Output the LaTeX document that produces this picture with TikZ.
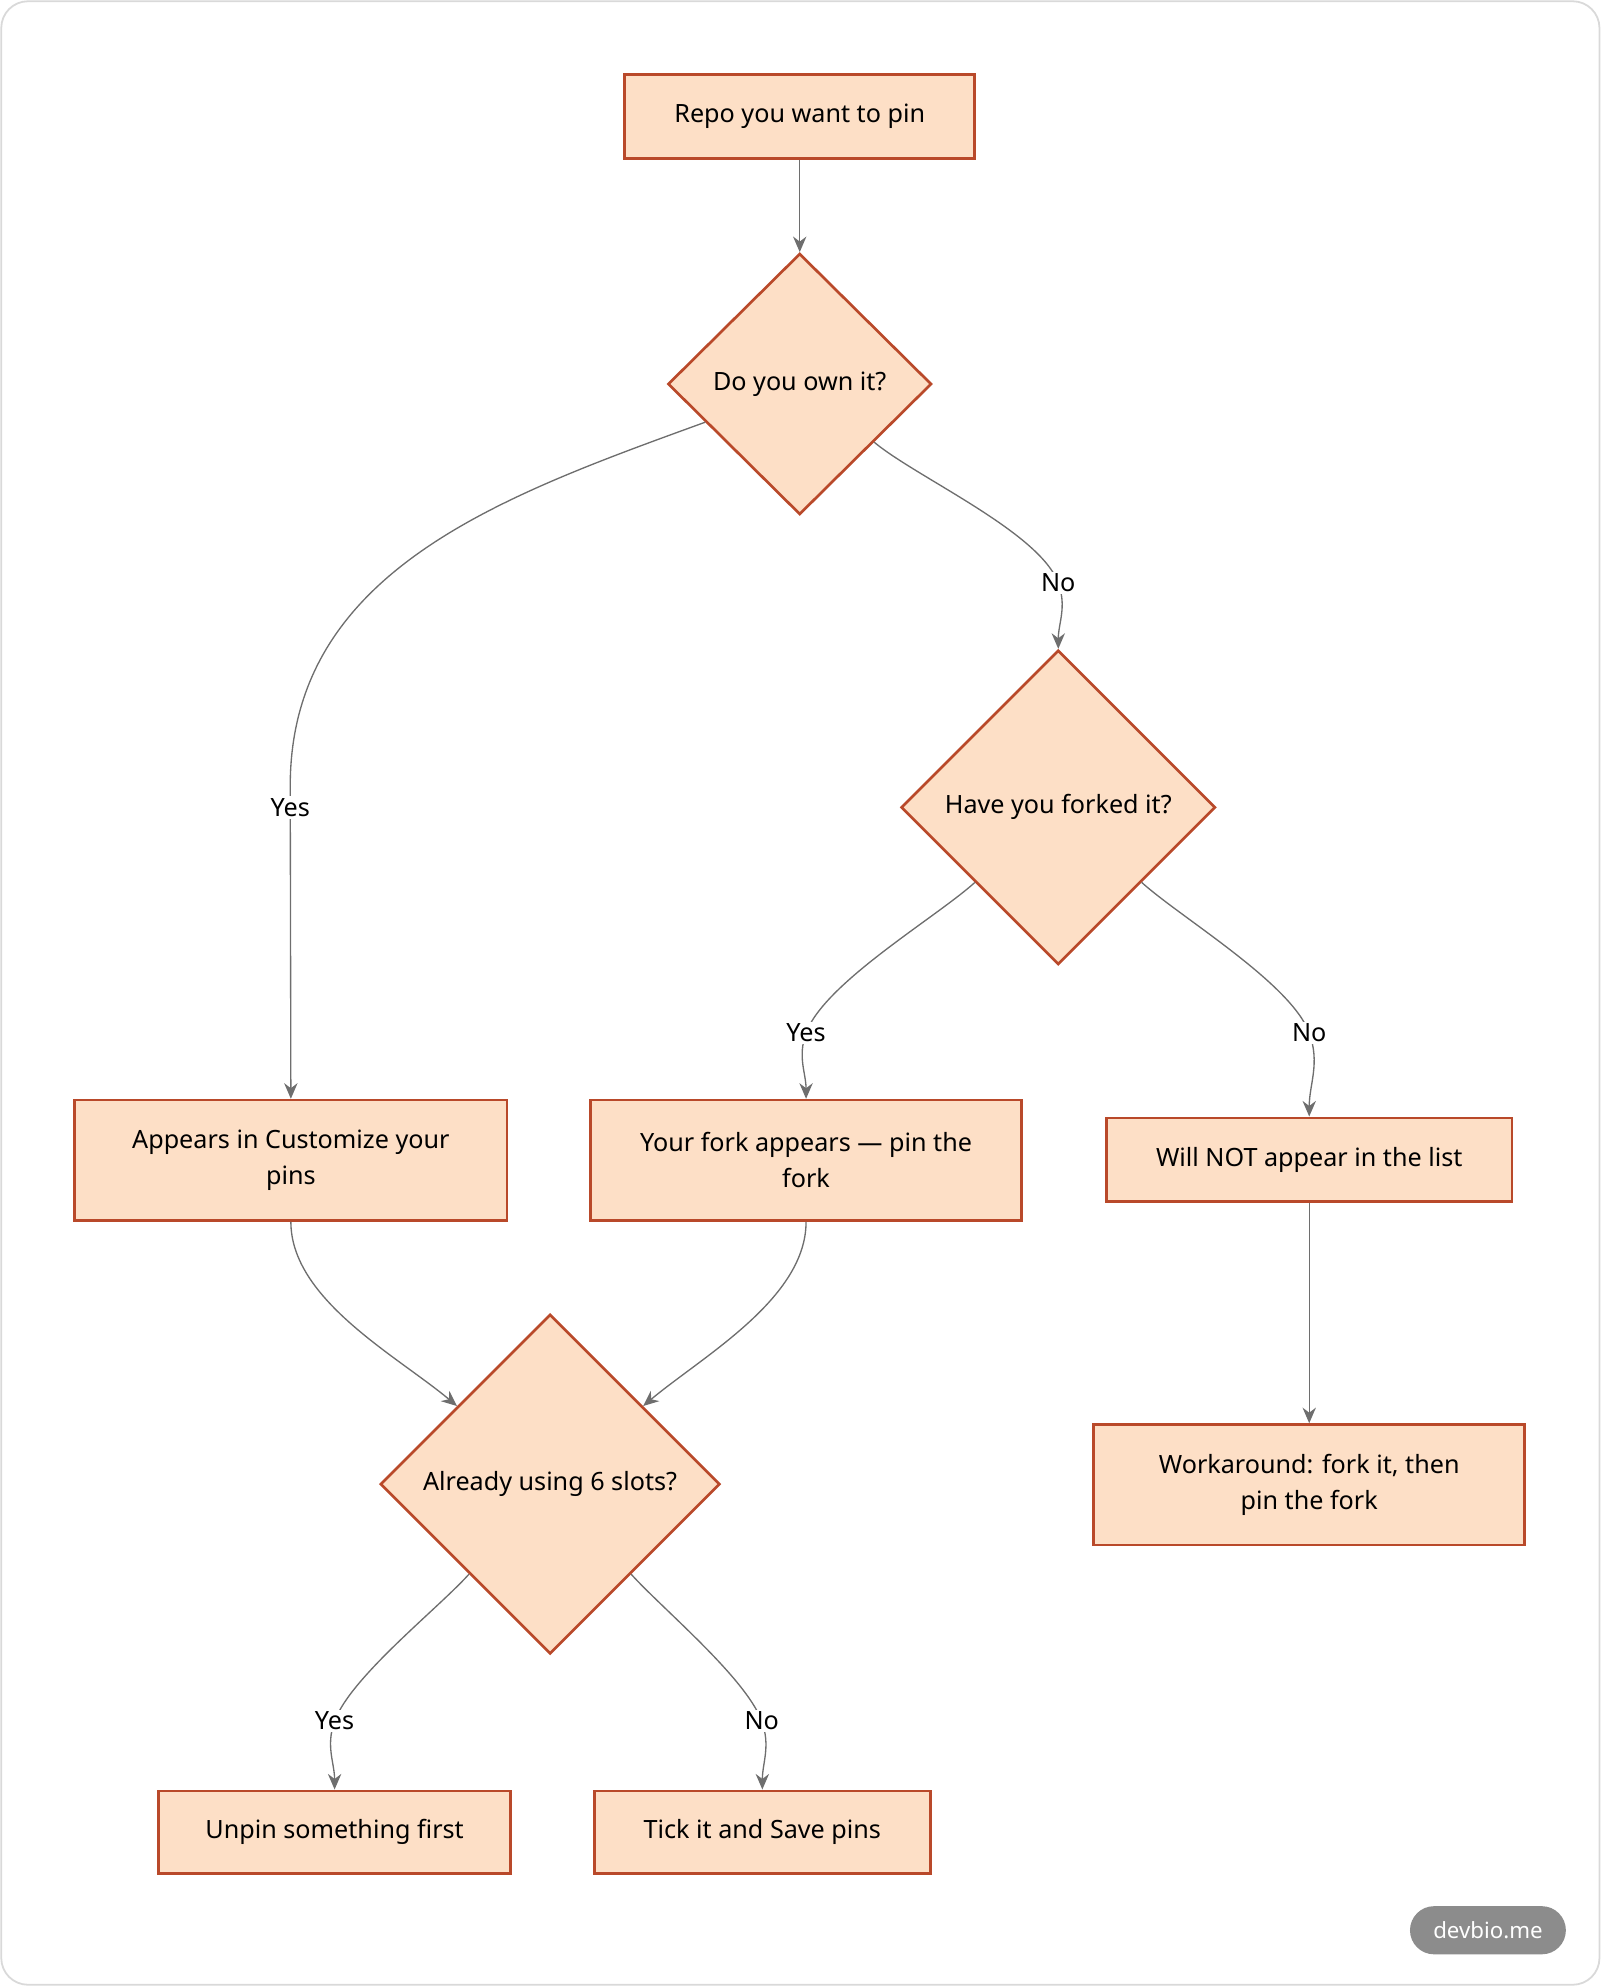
\documentclass[tikz,border=0pt]{standalone}
\usepackage{fontspec}
\setmainfont{Noto Sans}
\usetikzlibrary{shapes.geometric,arrows.meta}
\definecolor{boxfill}{HTML}{FDDFC6}
\definecolor{boxline}{HTML}{B9492A}
\definecolor{edgegray}{HTML}{6E6E6E}
\tikzset{
  box/.style={draw=boxline, fill=boxfill, line width=1.2pt, align=center, inner sep=0pt},
  ask/.style={box, diamond, shape aspect=1},
  arr/.style={draw=edgegray, line width=0.6pt, -{Stealth[length=7pt,width=6pt]}},
  lbl/.style={fill=white, inner sep=1pt}
}
\begin{document}
\begin{tikzpicture}[x=0.02cm,y=0.02cm,font=\fontsize{11.3}{16}\selectfont]
    \useasboundingbox (0,0) rectangle (1263,-1567);
    \draw[black!15, line width=0.8pt, rounded corners=12pt] (1,-1) rectangle (1262,-1566);

    \node[box, minimum width=276*0.02cm, minimum height=66*0.02cm] at (631,-92)  (repo) {Repo you want to pin};
    \node[ask, minimum width=208*0.02cm, minimum height=206*0.02cm] at (631,-303) (own) {Do you own it?};
    \node[ask, minimum width=248*0.02cm, minimum height=248*0.02cm] at (835,-637) (forked) {Have you forked it?};
    \node[box, minimum width=341*0.02cm, minimum height=95*0.02cm] at (229.5,-915.5) (appears) {Appears in Customize your\\pins};
    \node[box, minimum width=340*0.02cm, minimum height=95*0.02cm] at (636,-915.5) (yourfork) {Your fork appears — pin the\\fork};
    \node[box, minimum width=320*0.02cm, minimum height=66*0.02cm] at (1033,-915) (willnot) {Will NOT appear in the list};
    \node[box, minimum width=340*0.02cm, minimum height=95*0.02cm] at (1033,-1171.5) (workaround) {Workaround: fork it, then\\pin the fork};
    \node[ask, minimum width=268*0.02cm, minimum height=268*0.02cm] at (434,-1171) (slots) {Already using 6 slots?};
    \node[box, minimum width=278*0.02cm, minimum height=65*0.02cm] at (264,-1445.5) (unpin) {Unpin something first};
    \node[box, minimum width=265*0.02cm, minimum height=65*0.02cm] at (601.5,-1445.5) (tick) {Tick it and Save pins};

    \coordinate (yes1) at (229,-637);
    \coordinate (no1) at (835,-460);
    \coordinate (yes2) at (636,-815);
    \coordinate (no2) at (1033,-815);
    \coordinate (yes3) at (264,-1358);
    \coordinate (no3) at (601,-1358);

    \draw[arr] (repo) -- (own);
    \draw[arr] (own.202) to[out=200,in=90] (229,-620) -- (appears.north);
    \draw[arr] (own.-38) to[out=-40,in=110,looseness=0.6] (no1) to[out=-70,in=90] (forked.north);
    \draw[arr] (forked.222) to[out=222,in=70,looseness=0.6] (yes2) to[out=-110,in=90] (yourfork.north);
    \draw[arr] (forked.-42) to[out=-42,in=110,looseness=0.6] (no2) to[out=-70,in=90] (willnot.north);
    \draw[arr] (willnot) -- (workaround);
    \draw[arr] (appears.south) to[out=-90,in=140,looseness=0.8] (slots.140);
    \draw[arr] (yourfork.south) to[out=-90,in=40,looseness=0.8] (slots.40);
    \draw[arr] (slots.228) to[out=228,in=70,looseness=0.6] (yes3) to[out=-110,in=90] (unpin.north);
    \draw[arr] (slots.-48) to[out=-48,in=110,looseness=0.6] (no3) to[out=-70,in=90] (tick.north);

    \node[lbl] at (yes1) {Yes};
    \node[lbl] at (no1) {No};
    \node[lbl] at (yes2) {Yes};
    \node[lbl] at (no2) {No};
    \node[lbl] at (yes3) {Yes};
    \node[lbl] at (no3) {No};

    \node[fill=black!45, text=white, rounded corners=19*0.02cm, minimum width=123*0.02cm, minimum height=38*0.02cm, font=\fontsize{10}{12}\selectfont\bfseries] at (1174,-1523) (badge) {devbio.me};
\end{tikzpicture}
\end{document}
